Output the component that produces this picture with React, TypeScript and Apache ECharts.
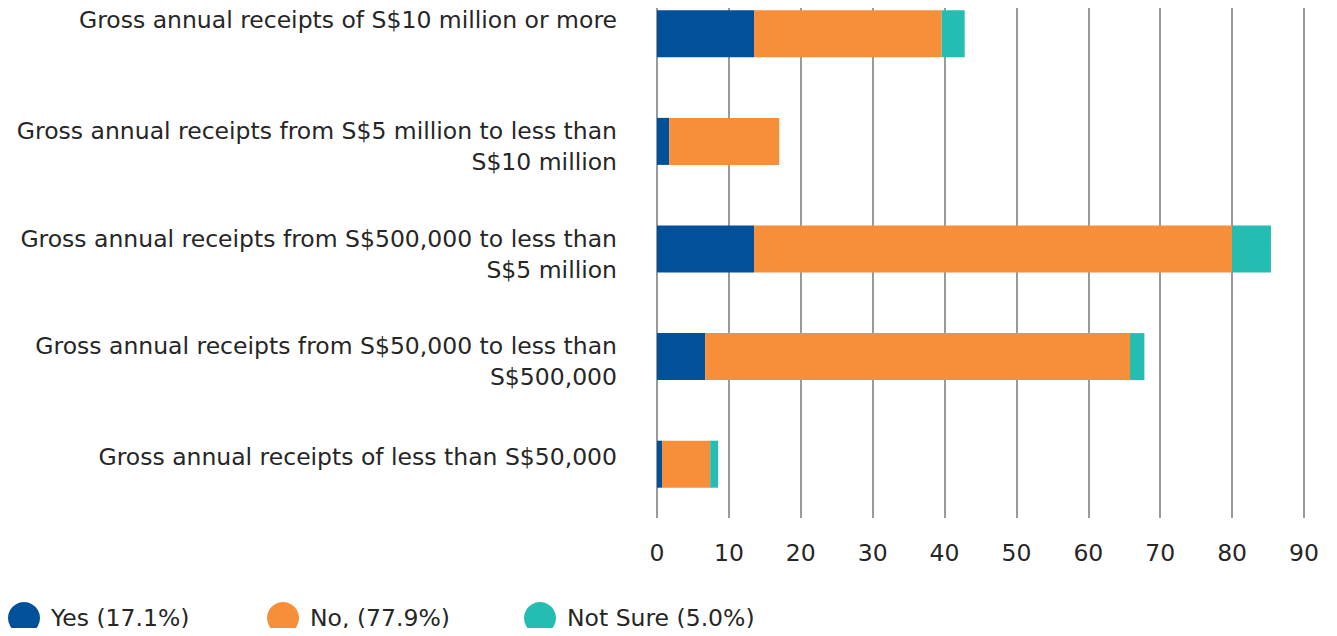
import React, { useEffect, useRef } from "react";
import * as echarts from "echarts";

const categories = [
  "Gross annual receipts of S$10 million or more",
  "Gross annual receipts from S$5 million to less than\nS$10 million",
  "Gross annual receipts from S$500,000 to less than\nS$5 million",
  "Gross annual receipts from S$50,000 to less than\nS$500,000",
  "Gross annual receipts of less than S$50,000",
];
const yesValues = [13.5, 1.7, 13.5, 6.7, 0.7];
const noValues = [26.1, 15.3, 66.5, 59.1, 6.7];
const notSureValues = [3.2, 0, 5.4, 2.0, 1.1];
const seriesNames = ["Yes (17.1%)", "No, (77.9%)", "Not Sure (5.0%)"];
const colors = ["#00509A", "#F68E3A", "#25BCB2"];
// vertical label shift in px (negative = up)
const labelShift = [-14, 5, 5, 5, -7];
const legendLefts = [8, 267, 524];

const FONT = "DejaVu Sans";
const WEIGHT = "normal";
const SIZE = 23.5;
const TEXT_COLOR = "#262626";
const OFFSET = 20;

function formatLabel(value: string, idx: number) {
  const s = labelShift[idx] || 0;
  const lines = value
    .split("\n")
    .map((l) => `{n|${l}}`)
    .join("\n");
  if (s < 0) return `${lines}\n{sp${-2 * s}| }`;
  if (s > 0) return `{sp${2 * s}| }\n${lines}`;
  return lines;
}

export default function App() {
  const ref = useRef<HTMLDivElement>(null);
  useEffect(() => {
    if (!ref.current) return;
    const chart = echarts.init(ref.current, null, { renderer: "svg" });
    const dataSets = [yesValues, noValues, notSureValues];
    const rich: Record<string, any> = {
      n: { fontFamily: FONT, fontWeight: WEIGHT, fontSize: SIZE, color: TEXT_COLOR, lineHeight: 31, align: "right" },
    };
    labelShift.forEach((s) => {
      const h = Math.abs(s) * 2;
      rich[`sp${h}`] = { fontSize: 1, lineHeight: h };
    });
    chart.setOption({
      animation: false,
      grid: { left: 657, right: 33, top: 0, bottom: 118, containLabel: false },
      xAxis: {
        type: "value",
        min: 0,
        max: 90,
        interval: 10,
        axisLine: { show: false },
        axisTick: { show: false },
        splitLine: { show: true, lineStyle: { color: "#9a9a9c", width: 2 } },
        axisLabel: { fontFamily: FONT, fontWeight: WEIGHT, fontSize: SIZE, color: TEXT_COLOR, margin: 23 },
      },
      yAxis: {
        type: "category",
        inverse: true,
        data: categories,
        axisLine: { show: false },
        axisTick: { show: false },
        axisLabel: {
          fontFamily: FONT,
          fontWeight: WEIGHT,
          fontSize: SIZE,
          color: TEXT_COLOR,
          margin: 40,
          lineHeight: 31,
          align: "right",
          formatter: formatLabel,
          rich,
        },
      },
      legend: seriesNames.map((name, i) => ({
        left: legendLefts[i],
        top: 602 + OFFSET,
        padding: 0,
        itemWidth: 32,
        itemHeight: 34,
        itemGap: 7,
        icon: "circle",
        textStyle: {
          fontFamily: FONT,
          fontWeight: WEIGHT,
          fontSize: SIZE,
          color: TEXT_COLOR,
          padding: [0, 0, 0, 6],
        },
        data: [name],
      })),
      series: seriesNames.map((name, i) => ({
        name,
        type: "bar",
        stack: "total",
        barWidth: 47,
        itemStyle: { color: colors[i] },
        data: dataSets[i],
      })),
      graphic: [
        {
          type: "rect",
          shape: { x: 645, y: OFFSET, width: 692, height: 11 },
          style: { fill: "#ffffff" },
          z: 0,
          silent: true,
        },
      ],
    });
    return () => chart.dispose();
  }, []);
  return (
    <div style={{ width: 1337, height: 636, margin: -8, overflow: "hidden", position: "relative" }}>
      <div ref={ref} style={{ position: "absolute", left: 0, top: -OFFSET, width: 1337, height: 636 + OFFSET }} />
    </div>
  );
}
